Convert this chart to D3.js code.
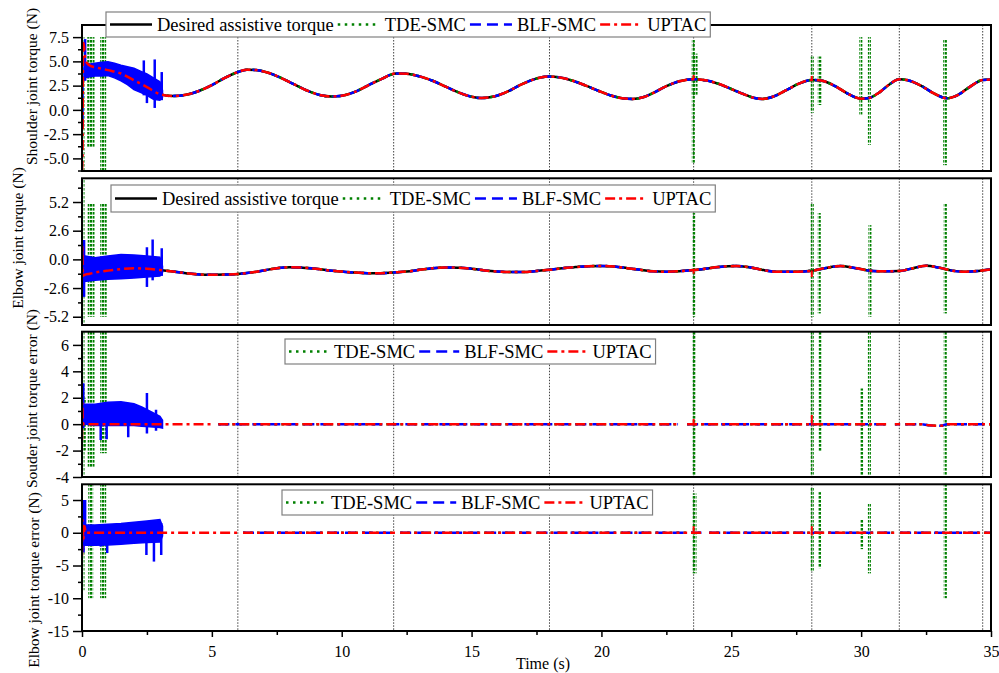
<!DOCTYPE html>
<html>
<head>
<meta charset="utf-8">
<style>
    body { margin: 0; background: #fff; }
    svg { display: block; font-family: "Liberation Serif", "Times New Roman", serif; }
    .tick line { stroke: #000; stroke-width: 1.5; }
    .ylabel { font-size: 15.5px; fill: #000; }
    .legend text { font-size: 18.5px; fill: #000; }
</style>
</head>
<body>
<svg width="999" height="673"></svg>
<script src="https://cdn.jsdelivr.net/npm/d3@7/dist/d3.min.js"></script>
<script>
// ---- data ----
const timeTicks = [0, 5, 10, 15, 20, 25, 30, 35];
const timeMinor = [2.5, 7.5, 12.5, 17.5, 22.5, 27.5, 32.5];
const markerTimes = [6, 12, 18, 23.55, 28.1, 31.47, 34.68];

const legendNames = ["Desired assistive torque", "TDE-SMC", "BLF-SMC", "UPTAC"];

// desired assistive torque (time s, torque N)
const shoulderDesired = [[0,5.0],[0.5,4.4],[1.0,4.1],[1.5,3.75],[2.0,3.05],[2.5,2.35],[3.0,1.62],[3.5,1.42],[4.0,1.55],[4.5,1.95],[5.0,2.55],[5.5,3.3],[6.0,3.9],[6.35,4.15],[6.7,4.1],[7.2,3.8],[7.7,3.25],[8.2,2.6],[8.7,1.95],[9.2,1.5],[9.6,1.38],[10.0,1.45],[10.5,1.85],[11.0,2.5],[11.5,3.15],[12.1,3.75],[12.5,3.72],[13.0,3.45],[13.5,3.0],[14.0,2.4],[14.5,1.8],[15.0,1.35],[15.4,1.22],[15.9,1.4],[16.4,1.9],[16.9,2.6],[17.4,3.15],[17.95,3.43],[18.4,3.35],[18.9,3.0],[19.4,2.5],[19.9,1.95],[20.4,1.45],[20.8,1.2],[21.2,1.13],[21.6,1.3],[22.0,1.75],[22.5,2.45],[23.0,2.95],[23.55,3.16],[24.0,3.05],[24.5,2.7],[25.0,2.15],[25.5,1.6],[25.9,1.22],[26.2,1.13],[26.6,1.35],[27.1,2.0],[27.6,2.7],[28.1,3.09],[28.5,3.0],[29.0,2.45],[29.5,1.65],[30.0,1.15],[30.3,1.22],[30.7,1.8],[31.1,2.65],[31.47,3.16],[31.8,3.05],[32.3,2.5],[32.8,1.7],[33.3,1.2],[33.7,1.5],[34.2,2.4],[34.68,3.09],[35.0,3.12]];
const elbowDesired = [[0,-1.35],[0.5,-1.2],[1.0,-1.02],[1.5,-0.88],[2.0,-0.8],[2.5,-0.85],[3.0,-0.97],[3.5,-1.1],[4.0,-1.25],[4.8,-1.4],[5.5,-1.38],[6.0,-1.33],[6.5,-1.2],[7.0,-1.0],[7.5,-0.8],[8.0,-0.72],[8.5,-0.75],[9.0,-0.85],[9.5,-1.0],[10.0,-1.1],[10.5,-1.2],[11.0,-1.25],[11.5,-1.25],[12.0,-1.18],[12.5,-1.1],[13.0,-0.95],[13.5,-0.8],[14.0,-0.73],[14.5,-0.75],[15.0,-0.85],[15.5,-1.0],[16.0,-1.1],[16.5,-1.15],[17.0,-1.15],[17.5,-1.05],[18.0,-0.95],[18.5,-0.8],[19.0,-0.7],[19.5,-0.62],[20.0,-0.6],[20.5,-0.65],[21.0,-0.8],[21.5,-0.95],[22.0,-1.08],[22.5,-1.12],[23.0,-1.07],[23.55,-0.97],[24.0,-0.85],[24.5,-0.7],[25.2,-0.6],[25.8,-0.75],[26.3,-1.0],[26.8,-1.12],[27.4,-1.12],[28.1,-1.03],[28.6,-0.8],[29.2,-0.6],[29.7,-0.75],[30.2,-0.98],[30.7,-1.08],[31.47,-1.06],[32.0,-0.8],[32.5,-0.58],[33.0,-0.75],[33.5,-1.02],[34.0,-1.12],[34.5,-1.05],[35.0,-0.9]];

// UPTAC start-up transients
const shoulderUptacStart = [[0,-6.3],[0.02,-4.5],[0.04,5.5],[0.06,6.9],[0.09,6.2],[0.13,5.2],[0.2,4.8],[0.35,4.5]];
const elbowUptacStart = [[0,-1.6],[0.01,1.3],[0.03,-1.5],[0.1,-1.4],[0.3,-1.3]];
const shoulderErrUptacStart = [[0,-1.2],[0.01,1.6],[0.03,0.1],[0.1,0]];
const elbowErrUptacStart = [[0,-3.5],[0.02,2.0],[0.05,-1.0],[0.1,1.0],[0.14,0],[0.2,0]];

// tracking error after the start-up (null = gap in the record)
const shoulderErrTrack = [[0.1,0],[5.05,0],[5.05,null],[5.25,0],[22.95,0],[22.95,null],[23.3,0],[31.05,0],[31.05,null],[31.3,0],[31.5,0],[31.5,null],[31.7,0],[32.3,0],[32.6,-0.08],[33.1,-0.12],[33.3,0],[35,0]];
const elbowErrTrack = [[0.2,0],[6.0,0],[6.0,null],[6.2,0],[12.05,0],[12.05,null],[12.25,0],[17.3,0],[17.3,null],[17.5,0],[23.3,0],[23.3,null],[23.45,0],[23.85,0],[23.85,null],[24.15,0],[31.3,0],[31.3,null],[31.5,0],[35,0]];

// UPTAC small switching spikes [t, low, high]
const shoulderUptacSpikes = [[23.55,3.15,3.6],[28.1,3.08,3.5]];
const elbowUptacSpikes = [[23.55,-1.3,-0.97],[28.1,-1.6,-1.0]];
const shoulderErrUptacSpikes = [[23.55,-0.1,0.4],[28.1,-0.1,0.7]];
const elbowErrUptacSpikes = [[23.55,0,1.0],[28.1,-0.4,1.0]];

// BLF-SMC chattering band (0-3 s): upper / lower envelopes, plus spikes [t, low, high]
const shoulderBlfUpper = [[0.1,4.6],[0.25,4.7],[0.5,4.8],[0.75,4.9],[1.0,4.95],[1.25,4.8],[1.5,4.6],[1.75,4.45],[2.0,4.3],[2.25,4.0],[2.5,3.7],[2.75,3.3],[3.0,2.9],[3.1,2.0]];
const shoulderBlfLower = [[0.1,3.3],[0.25,3.4],[0.5,3.5],[0.75,3.5],[1.0,3.55],[1.25,3.3],[1.5,3.0],[1.75,2.6],[2.0,2.1],[2.25,1.8],[2.5,1.5],[2.75,1.1],[3.0,1.0],[3.1,1.3]];
const shoulderBlfSpikes = [[0.02,-1.7,4.5],[0.12,3.0,7.3],[2.38,1.5,5.1],[2.5,0.7,3.5],[2.8,0.2,5.2],[3.07,1.0,3.9]];
const elbowBlfUpper = [[0.12,0.3],[0.5,0.15],[1.0,0.3],[1.5,0.45],[2.0,0.4],[2.5,0.3],[3.0,0.2],[3.1,-0.6]];
const elbowBlfLower = [[0.12,-2.0],[0.5,-1.9],[1.0,-1.8],[1.5,-1.75],[2.0,-1.7],[2.5,-1.6],[3.0,-1.5],[3.1,-1.2]];
const elbowBlfSpikes = [[0.08,-3.4,1.75],[2.5,-2.5,1.1],[2.72,-1.9,1.8],[3.07,-1.5,1.0]];
const shoulderErrBlfUpper = [[0.1,1.5],[0.5,1.5],[1.0,1.65],[1.5,1.7],[2.0,1.55],[2.3,1.3],[2.6,1.0],[3.0,0.6],[3.1,0.3]];
const shoulderErrBlfLower = [[0.1,0],[0.5,-0.1],[1.0,-0.1],[1.5,-0.1],[2.0,-0.1],[2.3,-0.15],[2.6,-0.2],[3.0,-0.25],[3.1,-0.3]];
const shoulderErrBlfSpikes = [[0.05,-0.3,3.1],[0.72,-1.2,1.5],[0.95,-1.15,1.5],[1.78,-1.0,1.5],[2.5,-0.7,2.35],[2.85,-0.5,1.1]];
const elbowErrBlfUpper = [[0.15,1.2],[0.5,1.2],[1.0,1.3],[1.5,1.4],[2.0,1.6],[2.5,1.8],[3.0,2.0],[3.1,1.0]];
const elbowErrBlfLower = [[0.15,-1.9],[0.5,-1.9],[1.0,-1.85],[1.5,-1.75],[2.0,-1.6],[2.5,-1.5],[3.0,-1.4],[3.1,-0.5]];
const elbowErrBlfSpikes = [[0.06,-3.0,5.0],[0.12,-2.0,5.0],[0.72,-2.1,1.2],[0.97,-3.1,1.2],[2.48,-3.4,0],[2.77,-4.4,0],[3.05,-3.4,1.5]];

// TDE-SMC chattering bursts [t start, t end, low, high]
const shoulderTdeBursts = [[0,0.03,-6.3,7.5],[0.22,0.5,-3.9,7.5],[0.72,0.95,-6.3,7.5],[23.5,23.6,-5.5,7.2],[23.5,23.72,1.5,5.8],[28.08,28.14,-0.3,5.5],[28.35,28.5,0.5,5.5],[29.95,30.0,-0.5,7.5],[30.28,30.36,-3.6,7.5],[33.18,33.32,-5.7,7.2]];
const elbowTdeBursts = [[0,0.03,-5.95,7.35],[0.24,0.5,-5.2,5.1],[0.72,0.97,-5.2,5.1],[23.52,23.62,-5.2,4.2],[28.08,28.15,-5.2,5.1],[28.35,28.45,-4.9,4.2],[30.3,30.38,-5.2,3.1],[33.2,33.32,-4.9,5.1]];
const shoulderErrTdeBursts = [[0,0.03,-4,7],[0.05,0.12,-2,2],[0.24,0.5,-3.3,7],[0.72,0.97,-2.2,7],[23.52,23.65,-4,7],[28.08,28.14,-4,7],[28.38,28.45,-2.1,7],[29.98,30.04,-4,2.7],[30.28,30.34,-4,7],[33.2,33.3,-4,7]];
const elbowErrTdeBursts = [[0,0.03,-8.8,5],[0.26,0.45,-10,7.4],[0.72,0.95,-10,7.4],[23.52,23.68,-6.2,6.0],[28.08,28.16,-6.0,7.0],[28.36,28.45,-5.4,6.2],[29.98,30.02,-2.5,2.0],[30.28,30.35,-6.2,4.5],[33.2,33.32,-10,7.4]];

// axis ticks
const shoulderTicks = [-5, -2.5, 0, 2.5, 5, 7.5];
const shoulderMinor = [-6.25, -3.75, -1.25, 1.25, 3.75, 6.25];
const elbowTicks = [-5.2, -2.6, 0, 2.6, 5.2];
const elbowMinor = [-3.9, -1.3, 1.3, 3.9, 6.5];
const shoulderErrTicks = [-4, -2, 0, 2, 4, 6];
const shoulderErrMinor = [-3, -1, 1, 3, 5];
const elbowErrTicks = [-15, -10, -5, 0, 5];
const elbowErrMinor = [-12.5, -7.5, -2.5, 2.5];

// ---- drawing ----
const serif = '"Liberation Serif", "Times New Roman", serif';
const svg = d3.select("svg");
const defs = svg.append("defs");

const loc = d3.formatLocale({ decimal: ".", thousands: ",", grouping: [3], currency: ["", ""], minus: "-" });

const green = "#008000", blue = "#0000ff", red = "#ff0000";
const styles = [
    { color: "#000", dash: null },
    { color: green, dash: "2.5,4.5" },
    { color: blue, dash: "11,6" },
    { color: red, dash: "10,4,3,4" }
];

defs.append("pattern")
    .attr("id", "tdeDots")
    .attr("width", 3).attr("height", 4)
    .attr("patternUnits", "userSpaceOnUse")
    .append("rect").attr("width", 2.4).attr("height", 2.6).attr("fill", green);

let x = d3.scaleLinear().domain([0, 35]).range([82, 991]);

// put the serif font on the axis text and drop the axis line (frame draws it)
function serifAxis(g) {
    g.attr("font-family", null).attr("font-size", null);
    g.select(".domain").remove();
    g.selectAll("text")
        .style("font-family", serif)
        .style("font-size", "16px")
        .style("fill", "#000");
}

let panels = [
    { top: 25, bottom: 171, domain: [-6.3, 8.75], ticks: shoulderTicks, minor: shoulderMinor, fmt: loc.format(".1f"),
      label: "Shoulder joint torque (N)", labelX: 37, labelY: 86.5,
      track: shoulderDesired, desired: true, uptacStart: shoulderUptacStart, uptacSpikes: shoulderUptacSpikes,
      blfUpper: shoulderBlfUpper, blfLower: shoulderBlfLower, blfSpikes: shoulderBlfSpikes, tde: shoulderTdeBursts,
      legend: { x: 106, y: 12, h: 25, sample: 42 } },
    { top: 178.3, bottom: 325, domain: [-5.95, 7.35], ticks: elbowTicks, minor: elbowMinor, fmt: loc.format(".1f"),
      label: "Elbow joint torque (N)", labelX: 23, labelY: 238,
      track: elbowDesired, desired: true, uptacStart: elbowUptacStart, uptacSpikes: elbowUptacSpikes,
      blfUpper: elbowBlfUpper, blfLower: elbowBlfLower, blfSpikes: elbowBlfSpikes, tde: elbowTdeBursts,
      legend: { x: 111, y: 185, h: 27, sample: 42 } },
    { top: 331.7, bottom: 477, domain: [-4, 7], ticks: shoulderErrTicks, minor: shoulderErrMinor, fmt: loc.format("d"),
      label: "Souder joint torque error (N)", labelX: 37, labelY: 398.5,
      track: shoulderErrTrack, desired: false, uptacStart: shoulderErrUptacStart, uptacSpikes: shoulderErrUptacSpikes,
      blfUpper: shoulderErrBlfUpper, blfLower: shoulderErrBlfLower, blfSpikes: shoulderErrBlfSpikes, tde: shoulderErrTdeBursts,
      legend: { x: 285, y: 339, h: 25, sample: 40 } },
    { top: 484.3, bottom: 631, domain: [-15, 7.4], ticks: elbowErrTicks, minor: elbowErrMinor, fmt: loc.format("d"),
      label: "Elbow joint torque error (N)", labelX: 39, labelY: 580,
      track: elbowErrTrack, desired: false, uptacStart: elbowErrUptacStart, uptacSpikes: elbowErrUptacSpikes,
      blfUpper: elbowErrBlfUpper, blfLower: elbowErrBlfLower, blfSpikes: elbowErrBlfSpikes, tde: elbowErrTdeBursts,
      legend: { x: 282, y: 490, h: 25, sample: 40 } }
];

panels.forEach(function (p, i) {
    let y = d3.scaleLinear().domain(p.domain).range([p.bottom, p.top]);

    defs.append("clipPath").attr("id", "clip" + i)
        .append("rect")
        .attr("x", x(0)).attr("y", p.top)
        .attr("width", x(35) - x(0)).attr("height", p.bottom - p.top);

    let plot = svg.append("g").attr("clip-path", `url(#clip${i})`);

    // dotted time markers
    plot.selectAll(".marker")
        .data(markerTimes)
        .join("line")
        .attr("class", "marker")
        .attr("x1", d => x(d)).attr("x2", d => x(d))
        .attr("y1", p.top).attr("y2", p.bottom)
        .attr("stroke", "#444")
        .attr("stroke-width", 1)
        .attr("stroke-dasharray", "1.5,1.5");

    let line = d3.line()
        .defined(d => d[1] != null)
        .x(d => x(d[0]))
        .y(d => y(d[1]))
        .curve(d3.curveMonotoneX);

    // desired torque (black)
    if (p.desired) {
        plot.append("path").attr("d", line(p.track))
            .attr("fill", "none").attr("stroke", "#000").attr("stroke-width", 2.5);
    }

    let settled = p.track.filter(d => d[0] >= 3.0);

    // TDE-SMC (green dotted)
    plot.append("path").attr("d", line(settled))
        .attr("fill", "none").attr("stroke", green).attr("stroke-width", 2.5)
        .attr("stroke-dasharray", styles[1].dash);

    plot.selectAll(".tde")
        .data(p.tde)
        .join("rect")
        .attr("class", "tde")
        .attr("x", d => x(d[0]) - 0.5)
        .attr("width", d => Math.max(3, x(d[1]) - x(d[0])))
        .attr("y", d => y(d[3]))
        .attr("height", d => y(d[2]) - y(d[3]))
        .attr("fill", "url(#tdeDots)");

    // BLF-SMC (blue)
    let band = p.blfUpper.map((d, k) => [d[0], p.blfLower[k][1], d[1]]);
    plot.append("path")
        .attr("d", d3.area().x(d => x(d[0])).y0(d => y(d[1])).y1(d => y(d[2]))(band))
        .attr("fill", blue).attr("stroke", blue).attr("stroke-width", 1.5);

    plot.selectAll(".blf")
        .data(p.blfSpikes)
        .join("line")
        .attr("class", "blf")
        .attr("x1", d => x(d[0])).attr("x2", d => x(d[0]))
        .attr("y1", d => y(d[1])).attr("y2", d => y(d[2]))
        .attr("stroke", blue).attr("stroke-width", 2.5);

    plot.append("path").attr("d", line(settled.filter(d => d[0] >= 3.05)))
        .attr("fill", "none").attr("stroke", blue).attr("stroke-width", 2.5)
        .attr("stroke-dasharray", styles[2].dash);

    // UPTAC (red dash-dot)
    let lastStart = p.uptacStart[p.uptacStart.length - 1][0];
    let uptac = p.uptacStart.concat(p.track.filter(d => d[0] > lastStart));
    plot.append("path").attr("d", line(uptac))
        .attr("fill", "none").attr("stroke", red).attr("stroke-width", 2.5)
        .attr("stroke-dasharray", styles[3].dash);

    plot.selectAll(".uptacSpike")
        .data(p.uptacSpikes)
        .join("line")
        .attr("class", "uptacSpike")
        .attr("x1", d => x(d[0])).attr("x2", d => x(d[0]))
        .attr("y1", d => y(d[1])).attr("y2", d => y(d[2]))
        .attr("stroke", red).attr("stroke-width", 2);

    // frame
    svg.append("rect")
        .attr("x", x(0)).attr("y", p.top)
        .attr("width", x(35) - x(0)).attr("height", p.bottom - p.top)
        .attr("fill", "none").attr("stroke", "#000").attr("stroke-width", 2);

    // y axis
    svg.append("g")
        .attr("transform", `translate(${x(0)},0)`)
        .call(d3.axisLeft(y).tickValues(p.minor).tickSize(4).tickFormat(""))
        .call(serifAxis);
    svg.append("g")
        .attr("transform", `translate(${x(0)},0)`)
        .call(d3.axisLeft(y).tickValues(p.ticks).tickSize(9).tickPadding(4).tickFormat(p.fmt))
        .call(serifAxis);

    svg.append("text")
        .attr("class", "ylabel")
        .attr("transform", `translate(${p.labelX},${p.labelY}) rotate(-90)`)
        .attr("text-anchor", "middle")
        .style("font-family", serif)
        .text(p.label);

    // legend
    let items = p.desired ? [0, 1, 2, 3] : [1, 2, 3];
    let lg = svg.append("g").attr("class", "legend");
    let box = lg.append("rect")
        .attr("x", p.legend.x).attr("y", p.legend.y)
        .attr("height", p.legend.h)
        .attr("fill", "#fff").attr("stroke", "#808080").attr("stroke-width", 1.2);
    let cy = p.legend.y + p.legend.h / 2;
    let cx = p.legend.x + 4;
    items.forEach(function (k) {
        lg.append("line")
            .attr("x1", cx).attr("x2", cx + p.legend.sample)
            .attr("y1", cy).attr("y2", cy)
            .attr("stroke", styles[k].color).attr("stroke-width", 2.5)
            .attr("stroke-dasharray", styles[k].dash);
        let t = lg.append("text")
            .attr("x", cx + p.legend.sample + 5)
            .attr("y", cy)
            .attr("dy", "0.34em")
            .style("font-family", serif)
            .text(legendNames[k]);
        cx = cx + p.legend.sample + 5 + t.node().getComputedTextLength() + 4;
    });
    box.attr("width", cx - p.legend.x);
});

// shared time axis
let last = panels[panels.length - 1];
svg.append("g")
    .attr("transform", `translate(0,${last.bottom})`)
    .call(d3.axisBottom(x).tickValues(timeMinor).tickSize(4).tickFormat(""))
    .call(serifAxis);
svg.append("g")
    .attr("transform", `translate(0,${last.bottom})`)
    .call(d3.axisBottom(x).tickValues(timeTicks).tickSize(6).tickPadding(9).tickFormat(d3.format("d")))
    .call(serifAxis);

svg.append("text")
    .attr("x", 543)
    .attr("y", 669)
    .attr("text-anchor", "middle")
    .style("font-family", serif)
    .style("font-size", "16px")
    .text("Time (s)");
</script>
</body>
</html>
